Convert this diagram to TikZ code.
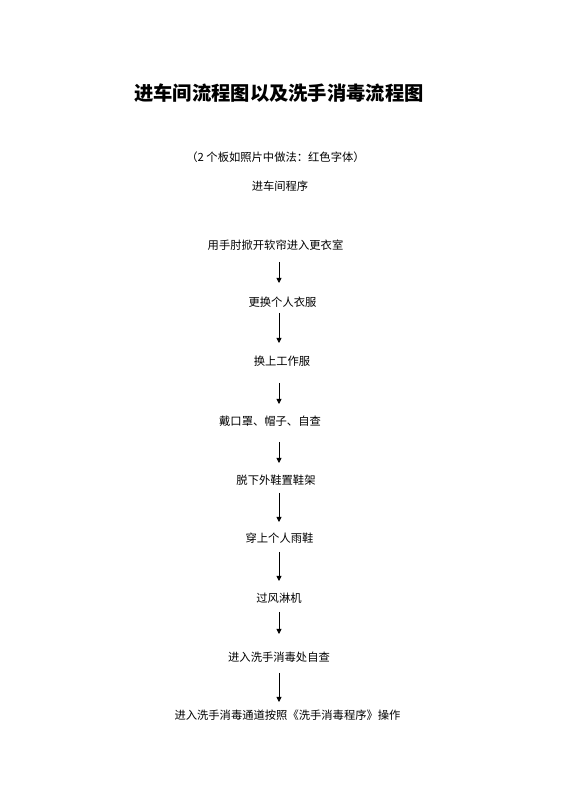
\documentclass[tikz,border=0pt]{standalone}
\usepackage{fontspec}
\newfontfamily\cjk{Noto Sans CJK SC}
\usetikzlibrary{arrows.meta,calc}
\tikzset{
  txt/.style={font=\cjk\fontsize{11.3}{13}\selectfont, inner sep=0pt, text=black},
  ttl/.style={font=\cjk\bfseries\fontsize{19.3}{22}\selectfont, inner sep=0pt, text=black},
  arr/.style={-{Triangle[length=5,width=5]}, line width=0.8pt, black}
}
\begin{document}
\begin{tikzpicture}[x=1pt,y=1pt]
\useasboundingbox (0,0) rectangle (560,792);
\fill[white] (0,0) rectangle (560,792);
\coordinate (axis) at (279,0);
\node[ttl] (title) at (279,792-93) {进车间流程图以及洗手消毒流程图};
\node[txt] (sub) at (275.5,792-157) {（2 个板如照片中做法：红色字体）};
\node[txt] (prog) at (280,792-186) {进车间程序};
\node[txt] (s1) at (275.5,792-245) {用手肘掀开软帘进入更衣室};
\node[txt] (s2) at (282.5,792-302) {更换个人衣服};
\node[txt] (s3) at (282,792-361) {换上工作服};
\node[txt] (s4) at (270,792-421) {戴口罩、帽子、自查};
\node[txt] (s5) at (276,792-480) {脱下外鞋置鞋架};
\node[txt] (s6) at (279.5,792-538) {穿上个人雨鞋};
\node[txt] (s7) at (279,792-598) {过风淋机};
\node[txt] (s8) at (279,792-657) {进入洗手消毒处自查};
\node[txt] (s9) at (287.5,792-715) {进入洗手消毒通道按照《洗手消毒程序》操作};
\draw[arr] ($(axis |- s1.center)+(0,-17)$) -- ($(axis |- s2.center)+(0,19)$);
\draw[arr] ($(axis |- s2.center)+(0,-11)$) -- ($(axis |- s3.center)+(0,18)$);
\draw[arr] ($(axis |- s3.center)+(0,-22)$) -- ($(axis |- s4.center)+(0,17)$);
\draw[arr] ($(axis |- s4.center)+(0,-21)$) -- ($(axis |- s5.center)+(0,17)$);
\draw[arr] ($(axis |- s5.center)+(0,-13)$) -- ($(axis |- s6.center)+(0,16)$);
\draw[arr] ($(axis |- s6.center)+(0,-14)$) -- ($(axis |- s7.center)+(0,17)$);
\draw[arr] ($(axis |- s7.center)+(0,-14)$) -- ($(axis |- s8.center)+(0,23)$);
\draw[arr] ($(axis |- s8.center)+(0,-16)$) -- ($(axis |- s9.center)+(0,13)$);
\end{tikzpicture}
\end{document}
